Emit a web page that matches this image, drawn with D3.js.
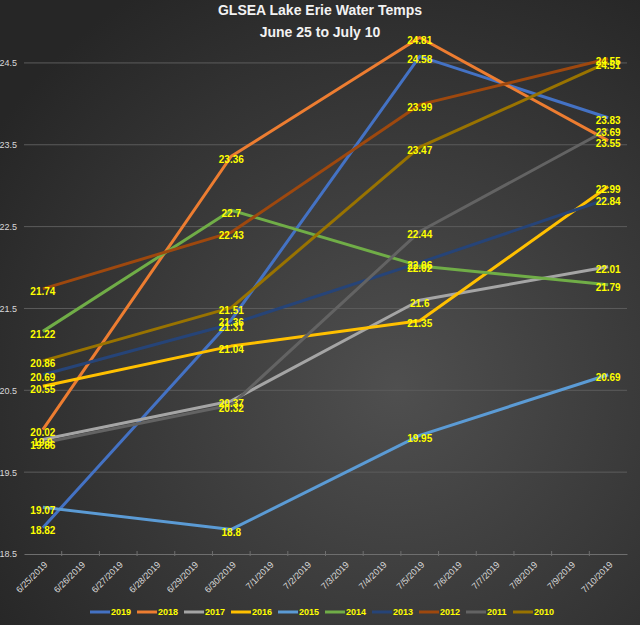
<!DOCTYPE html>
<html>
<head>
<meta charset="utf-8">
<script src="https://cdn.jsdelivr.net/npm/d3@7"></script>
<style>
  body { margin: 0; background: #333; }
  svg { display: block; }
</style>
</head>
<body>
<svg id="temps-chart"></svg>
<script>
// categories on the x axis (every day), only four of them carry readings
const dates = [
  "6/25/2019", "6/26/2019", "6/27/2019", "6/28/2019", "6/29/2019", "6/30/2019",
  "7/1/2019", "7/2/2019", "7/3/2019", "7/4/2019", "7/5/2019", "7/6/2019",
  "7/7/2019", "7/8/2019", "7/9/2019", "7/10/2019"
];
const sampleDates = ["6/25/2019", "6/30/2019", "7/5/2019", "7/10/2019"];

const years = ["2019", "2018", "2017", "2016", "2015", "2014", "2013", "2012", "2011", "2010"];
const temps2019 = [18.82, 21.36, 24.58, 23.83];
const temps2018 = [20.02, 23.36, 24.81, 23.55];
const temps2017 = [19.9, 20.37, 21.6, 22.01];
const temps2016 = [20.55, 21.04, 21.35, 22.99];
const temps2015 = [19.07, 18.8, 19.95, 20.69];
const temps2014 = [21.22, 22.7, 22.02, 21.79];
const temps2013 = [20.69, 21.31, 22.06, 22.84];
const temps2012 = [21.74, 22.43, 23.99, 24.55];
const temps2011 = [19.86, 20.32, 22.44, 23.69];
const temps2010 = [20.86, 21.51, 23.47, 24.51];
const yTicks = [18.5, 19.5, 20.5, 21.5, 22.5, 23.5, 24.5];

const seriesValues = [
  temps2019, temps2018, temps2017, temps2016, temps2015,
  temps2014, temps2013, temps2012, temps2011, temps2010
];
const seriesColors = [
  "#4472C4", "#ED7D31", "#A5A5A5", "#FFC000", "#5B9BD5",
  "#70AD47", "#264478", "#9E480E", "#636363", "#997300"
];

function DrawChart() {
  const width = 640;
  const height = 625;
  const plotLeft = 24;
  const plotRight = 627;
  const plotTop = 22;
  const plotBottom = 554;
  const labelYellow = "#FFFF00";
  const axisGray = "#D9D9D9";
  const font = "'Liberation Sans', Arial, sans-serif";

  const svg = d3.select("#temps-chart").attr("width", width).attr("height", height);
  svg.selectAll("*").remove();

  // dark radial background like the excel chart style
  const grad = svg.append("defs")
    .append("radialGradient")
    .attr("id", "bg")
    .attr("cx", "62%").attr("cy", "62%").attr("r", "75%");
  grad.append("stop").attr("offset", "0%").attr("stop-color", "#4f4f4f");
  grad.append("stop").attr("offset", "100%").attr("stop-color", "#262626");
  svg.append("rect").attr("width", width).attr("height", height).attr("fill", "url(#bg)");

  const x = d3.scaleBand().domain(dates).range([plotLeft, plotRight]);
  const y = d3.scaleLinear().domain([18.5, 25]).range([plotBottom, plotTop]);
  const cx = (d) => x(d) + x.bandwidth() / 2;

  // gridlines
  svg.append("g")
    .selectAll("line")
    .data(yTicks.slice(1))
    .enter()
    .append("line")
    .attr("x1", plotLeft).attr("x2", plotRight)
    .attr("y1", (d) => y(d)).attr("y2", (d) => y(d))
    .attr("stroke", "#5c5c5c")
    .attr("stroke-width", 1);

  // y axis labels
  const yAxis = svg.append("g")
    .attr("transform", `translate(${plotLeft},0)`)
    .call(d3.axisLeft(y).tickValues(yTicks).tickSize(0).tickPadding(7).tickFormat(d3.format(".1f")));
  yAxis.select(".domain").remove();
  yAxis.selectAll("text")
    .style("font-family", font)
    .style("font-size", "9px")
    .attr("fill", axisGray);

  // x axis
  const xAxis = svg.append("g")
    .attr("transform", `translate(0,${plotBottom})`)
    .call(d3.axisBottom(x).tickSize(0).tickPadding(0));
  xAxis.select(".domain").attr("stroke", "#6e6e6e");
  xAxis.selectAll("text")
    .style("font-family", font)
    .style("font-size", "9px")
    .attr("fill", axisGray)
    .attr("text-anchor", "end")
    .attr("dy", "0.35em")
    .attr("transform", "translate(3,9) rotate(-45)");
  // tick marks sit between categories
  xAxis.append("g")
    .selectAll("line")
    .data(dates.slice(1))
    .enter()
    .append("line")
    .attr("x1", (d) => x(d)).attr("x2", (d) => x(d))
    .attr("y1", -3).attr("y2", 2)
    .attr("stroke", "#6e6e6e");

  const line = d3.line()
    .x((d) => cx(d.date))
    .y((d) => y(d.value));

  const series = years.map((year, i) => ({
    year: year,
    color: seriesColors[i],
    points: seriesValues[i].map((v, j) => ({ date: sampleDates[j], value: v }))
  }));

  svg.append("g")
    .selectAll("path")
    .data(series)
    .enter()
    .append("path")
    .attr("d", (d) => line(d.points))
    .attr("fill", "none")
    .attr("stroke", (d) => d.color)
    .attr("stroke-width", 3)
    .attr("stroke-linejoin", "round");

  // data labels centred on each point
  svg.append("g")
    .selectAll("g")
    .data(series)
    .enter()
    .append("g")
    .selectAll("text")
    .data((d) => d.points)
    .enter()
    .append("text")
    .attr("x", (d) => cx(d.date))
    .attr("y", (d) => y(d.value) + 3)
    .attr("dy", "0.35em")
    .attr("text-anchor", "middle")
    .style("font-family", font)
    .style("font-size", "10px")
    .style("font-weight", "bold")
    .attr("fill", labelYellow)
    .text((d) => d.value);

  // title
  svg.append("text")
    .text("GLSEA Lake Erie Water Temps")
    .attr("x", width / 2).attr("y", 15)
    .attr("text-anchor", "middle")
    .style("font-family", font)
    .style("font-size", "14px")
    .style("font-weight", "bold")
    .attr("fill", "#F2F2F2");
  svg.append("text")
    .text("June 25 to July 10")
    .attr("x", width / 2).attr("y", 37)
    .attr("text-anchor", "middle")
    .style("font-family", font)
    .style("font-size", "14px")
    .style("font-weight", "bold")
    .attr("fill", "#F2F2F2");

  // legend
  const legendX = 90;
  const legendY = 612;
  const legendStep = 47;
  const legend = svg.append("g")
    .selectAll("g")
    .data(series)
    .enter()
    .append("g")
    .attr("transform", (d, i) => `translate(${legendX + i * legendStep},${legendY})`);
  legend.append("line")
    .attr("x1", 0).attr("x2", 20)
    .attr("stroke", (d) => d.color)
    .attr("stroke-width", 3);
  legend.append("text")
    .attr("x", 21)
    .attr("dy", "0.35em")
    .style("font-family", font)
    .style("font-size", "9px")
    .style("font-weight", "bold")
    .attr("fill", labelYellow)
    .text((d) => d.year);
}

DrawChart();
</script>
</body>
</html>
